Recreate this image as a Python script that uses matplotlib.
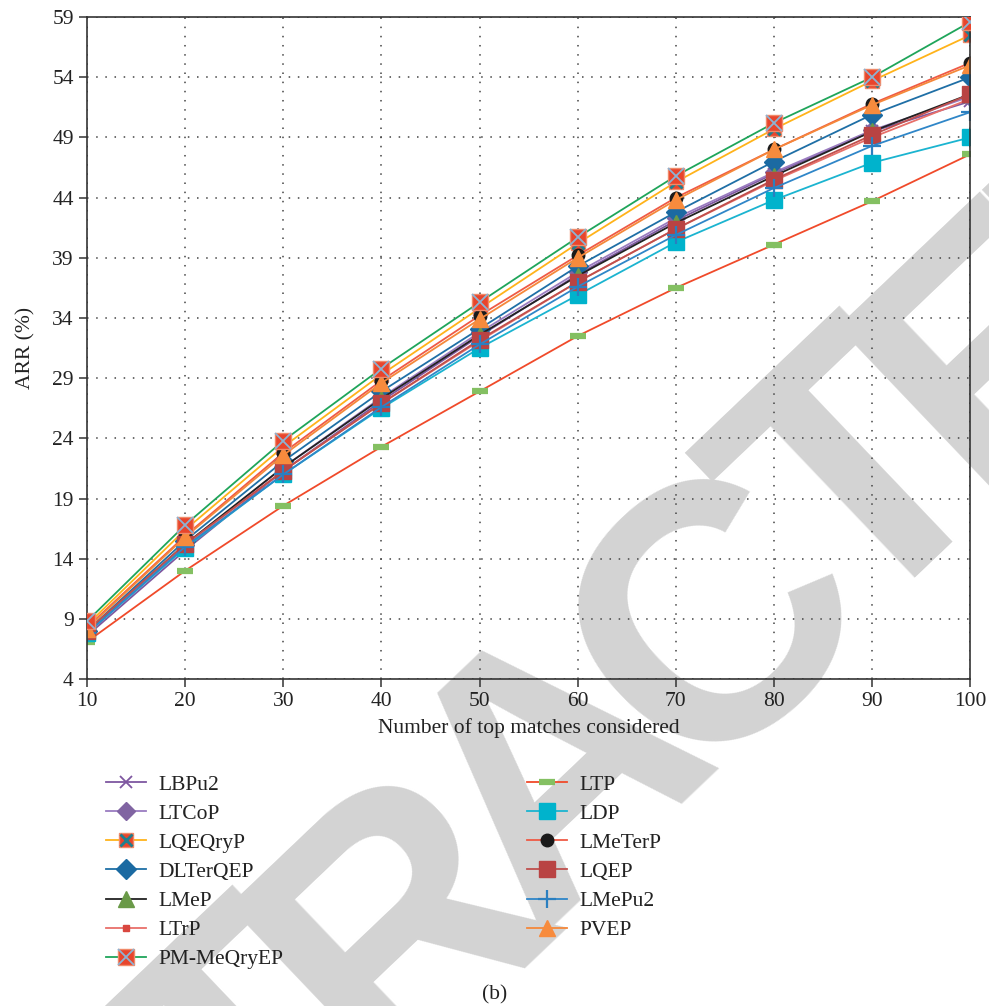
import numpy as np
from matplotlib import pyplot as plt
from matplotlib.legend_handler import HandlerTuple

# number of top matches considered
x = [10, 20, 30, 40, 50, 60, 70, 80, 90, 100]

# ARR (%) per method
lbpu2    = [7.6, 14.7, 21.3, 27.1, 32.5, 37.6, 42.1, 46.0, 49.5, 52.0]
ltcop    = [7.9, 15.1, 21.6, 27.4, 32.8, 37.8, 42.3, 46.1, 49.6, 52.4]
lqeqryp  = [8.5, 16.4, 23.3, 29.3, 34.8, 40.2, 45.3, 49.7, 53.7, 57.5]
dlterqep = [8.0, 15.5, 22.1, 27.9, 33.1, 38.3, 42.8, 47.0, 50.9, 54.0]
lmep     = [7.9, 15.2, 21.6, 27.3, 32.6, 37.5, 41.9, 45.8, 49.5, 52.6]
ltrp     = [7.8, 15.1, 21.3, 26.9, 32.1, 37.0, 41.4, 45.4, 49.0, 52.2]
pm_meq   = [8.8, 16.8, 23.8, 29.8, 35.3, 40.7, 45.8, 50.2, 54.0, 58.6]
ltp      = [7.1, 13.0, 18.4, 23.3, 27.9, 32.5, 36.5, 40.1, 43.7, 47.6]
ldp      = [7.8, 14.9, 21.0, 26.5, 31.5, 35.9, 40.3, 43.8, 46.9, 49.0]
lmeterp  = [8.3, 15.9, 22.8, 28.8, 34.2, 39.2, 44.0, 48.0, 51.8, 55.2]
lqep     = [8.0, 15.2, 21.3, 26.9, 32.2, 37.0, 41.4, 45.5, 49.2, 52.6]
lmepu2   = [7.8, 15.0, 21.0, 26.6, 31.8, 36.6, 40.9, 44.8, 48.3, 51.1]
pvep     = [8.2, 15.8, 22.6, 28.6, 33.9, 39.0, 43.8, 48.0, 51.7, 55.0]

yticks = np.arange(4, 60, 5)
xticks = np.arange(10, 101, 10)

serif = ['Liberation Serif', 'DejaVu Serif']

W, H = 989, 1006
fig = plt.figure(figsize=(W / 100, H / 100), dpi=100)

# "RETRACTED" watermark, letters set one by one (tight spacing)
wm = 'RETRACTED'
wm_adv = [0.722, 0.667, 0.611, 0.722, 0.722, 0.722, 0.611, 0.667, 0.722]
ang = np.radians(43.6)
step = 302.0          # px per em of advance
cap_half = 130.0      # half cap height in px
cx, cy = 540.0, 752.0  # centre of the "A", px from top-left
pos = np.cumsum(wm_adv) - np.array(wm_adv) / 2
pos = (pos - pos[4]) * step
for ch, p in zip(wm, pos):
    px = cx + p * np.cos(ang) + cap_half * np.sin(ang)
    py = cy - p * np.sin(ang) + cap_half * np.cos(ang)
    fig.text(px / W, 1 - py / H, ch, rotation=np.degrees(ang),
             rotation_mode='anchor', ha='center', va='baseline',
             fontsize=261, fontweight='bold', family='Liberation Sans',
             color='#d3d3d3', zorder=0)

ax = fig.add_axes([0.088, 0.325, 0.893, 0.658])
ax.set_facecolor('none')
ax.set_zorder(2)

lw = 1.3
h = {}
h['LBPu2'], = ax.plot(x, lbpu2, color='#7e57a0', lw=lw, marker='x', ms=9,
                      mew=1.3, mec='#7e57a0')
h['LTCoP'], = ax.plot(x, ltcop, color='#9a7cc0', lw=lw, marker='D', ms=9,
                      mfc='#8064a2', mec='#8064a2')
a1, = ax.plot(x, lqeqryp, color='#ffb31a', lw=lw, marker='s', ms=10,
              mfc='#e8452c', mec='#f08a6a')
a2, = ax.plot(x, lqeqryp, ls='none', marker='x', ms=8, mew=2,
              mec='#1f7f8f')
h['LQEQryP'] = (a1, a2)
h['DLTerQEP'], = ax.plot(x, dlterqep, color='#1f6fa6', lw=lw, marker='D',
                         ms=10, mfc='#1b6aa2', mec='#1b6aa2')
h['LMeP'], = ax.plot(x, lmep, color='#222222', lw=lw, marker='^', ms=12,
                     mfc='#6a9a48', mec='#6a9a48')
h['LTrP'], = ax.plot(x, ltrp, color='#e8706a', lw=lw, marker='s', ms=4,
                     mfc='#d9473f', mec='#d9473f')
b1, = ax.plot(x, pm_meq, color='#1fa55a', lw=lw, marker='s', ms=12,
              mfc='#e8452c', mec='#f08a6a', zorder=5)
b2, = ax.plot(x, pm_meq, ls='none', marker='x', ms=11, mew=1.3,
              mec='#8db3d3', zorder=5)
h['PM-MeQryEP'] = (b1, b2)
h['LTP'], = ax.plot(x, ltp, color='#f04a2a', lw=lw, marker='_', ms=12,
                    mew=4.5, mec='#84c062')
h['LDP'], = ax.plot(x, ldp, color='#1bb4d0', lw=lw, marker='s', ms=12,
                    mfc='#00b3cc', mec='#00b3cc')
h['LMeTerP'], = ax.plot(x, lmeterp, color='#ef5a45', lw=lw, marker='o',
                        ms=9, mfc='#1a1a1a', mec='#1a1a1a')
h['LQEP'], = ax.plot(x, lqep, color='#c0504d', lw=lw, marker='s', ms=12,
                     mfc='#b94343', mec='#b94343')
h['LMePu2'], = ax.plot(x, lmepu2, color='#2f86c8', lw=lw, marker='+',
                       ms=13, mew=1.6, mec='#2a7fc0')
h['PVEP'], = ax.plot(x, pvep, color='#f5883a', lw=lw, marker='^', ms=12,
                     mfc='#f78b3d', mec='#f78b3d')

ax.set_xlim(10, 100)
ax.set_ylim(4, 59)
ax.set_xticks(xticks)
ax.set_yticks(yticks)
ax.grid(True, color='#444444', linestyle=(0, (1, 5)), linewidth=1.1)
for s in ax.spines.values():
    s.set_color('#333333')
    s.set_linewidth(1.2)
ax.tick_params(colors='#333333', labelcolor='#222222', labelsize=15.5,
               length=6, width=1.1)
for t in ax.get_xticklabels() + ax.get_yticklabels():
    t.set_family(serif)

ax.set_xlabel('Number of top matches considered', family=serif,
              fontsize=15.5, color='#222222', labelpad=5)
ax.set_ylabel('ARR (%)', family=serif, fontsize=15.5, color='#222222',
              labelpad=12)

names = ['LBPu2', 'LTCoP', 'LQEQryP', 'DLTerQEP', 'LMeP', 'LTrP',
         'PM-MeQryEP', 'LTP', 'LDP', 'LMeTerP', 'LQEP', 'LMePu2', 'PVEP']
leg = fig.legend([h[n] for n in names], names, ncol=2, frameon=False,
                 loc='upper left', bbox_to_anchor=(0.107, 0.23),
                 borderpad=0, borderaxespad=0, handlelength=1.85,
                 handletextpad=0.6, columnspacing=11.3, labelspacing=0.42,
                 prop={'family': serif, 'size': 15.5},
                 handler_map={tuple: HandlerTuple(ndivide=1)})
for t in leg.get_texts():
    t.set_color('#222222')

fig.text(0.5, 0.002, '(b)', ha='center', va='bottom', family=serif,
         fontsize=15.5, color='#222222')

fig.savefig('out.png', dpi=100)
